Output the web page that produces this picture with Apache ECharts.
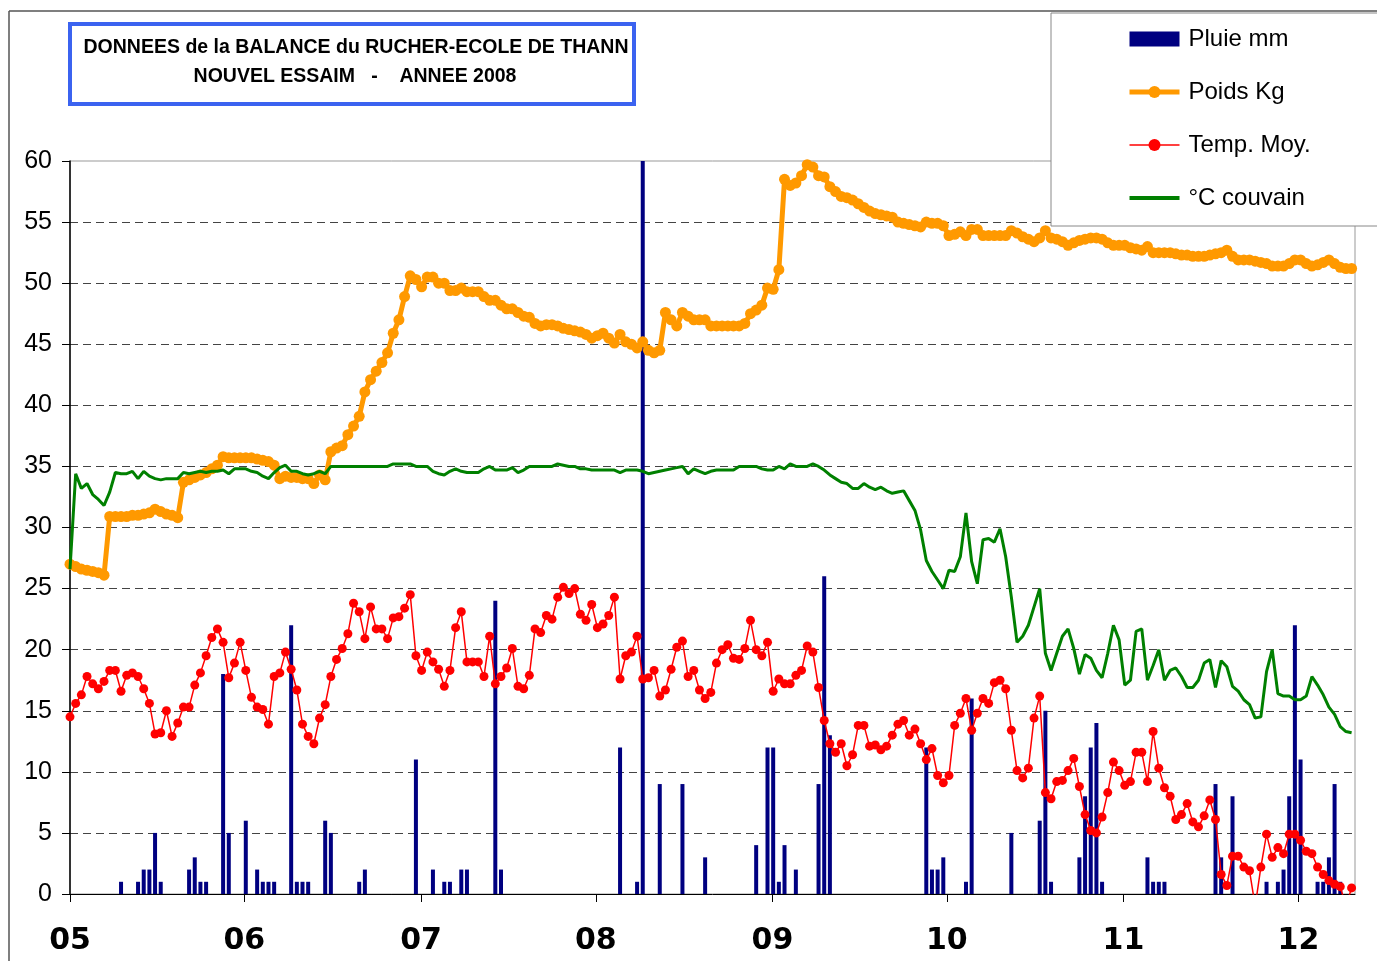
<!DOCTYPE html>
<html>
<head>
<meta charset="utf-8">
<script src="https://cdn.jsdelivr.net/npm/echarts@6/dist/echarts.min.js"></script>
<style>
  html, body { margin: 0; padding: 0; background: #fff; }
  #chart { width: 1377px; height: 961px; }
</style>
</head>
<body>
<div id="chart"></div>
<script>
// relevés journaliers, index 0 = 1er mai 2008
const poidsKg = [
  27.0, 26.8, 26.6, 26.5, 26.4, 26.3, 26.1, 30.9, 30.9, 30.9,
  30.9, 31.0, 31.0, 31.1, 31.2, 31.5, 31.3, 31.1, 31.0, 30.8,
  33.7, 33.9, 34.1, 34.3, 34.5, 34.8, 35.1, 35.8, 35.7, 35.7,
  35.7, 35.7, 35.7, 35.6, 35.5, 35.4, 35.1, 34.0, 34.2, 34.1,
  34.1, 34.0, 34.0, 33.6, 34.3, 33.9, 36.2, 36.5, 36.7, 37.6,
  38.3, 39.1, 41.1, 42.1, 42.8, 43.5, 44.3, 45.9, 47.0, 48.9,
  50.6, 50.3, 49.7, 50.5, 50.5, 50.0, 50.0, 49.4, 49.4, 49.6,
  49.3, 49.3, 49.3, 48.9, 48.6, 48.6, 48.2, 47.9, 47.9, 47.6,
  47.3, 47.2, 46.7, 46.5, 46.6, 46.6, 46.5, 46.3, 46.2, 46.1,
  46.0, 45.8, 45.5, 45.7, 45.9, 45.5, 45.1, 45.8, 45.2, 45.0,
  44.7, 45.2, 44.5, 44.3, 44.5, 47.6, 47.0, 46.5, 47.6, 47.3,
  47.0, 47.0, 47.0, 46.5, 46.5, 46.5, 46.5, 46.5, 46.5, 46.7,
  47.5, 47.8, 48.2, 49.6, 49.5, 51.1, 58.5, 58.0, 58.2, 58.8,
  59.7, 59.5, 58.8, 58.7, 57.9, 57.5, 57.1, 57.0, 56.8, 56.5,
  56.2, 55.9, 55.7, 55.6, 55.5, 55.4, 55.0, 54.9, 54.8, 54.7,
  54.6, 55.0, 54.9, 54.9, 54.7, 53.9, 54.0, 54.2, 53.9, 54.4,
  54.4, 53.9, 53.9, 53.9, 53.9, 53.9, 54.3, 54.1, 53.8, 53.6,
  53.4, 53.7, 54.3, 53.7, 53.6, 53.4, 53.1, 53.3, 53.5, 53.6,
  53.7, 53.7, 53.6, 53.3, 53.1, 53.1, 53.1, 52.9, 52.8, 52.7,
  53.0, 52.5, 52.5, 52.5, 52.5, 52.4, 52.3, 52.3, 52.2, 52.2,
  52.2, 52.3, 52.4, 52.5, 52.7, 52.2, 51.9, 51.9, 51.9, 51.8,
  51.7, 51.6, 51.4, 51.4, 51.4, 51.6, 51.9, 51.9, 51.6, 51.4,
  51.5, 51.7, 51.9, 51.6, 51.3, 51.2, 51.2
];

const tempMoy = [
  14.5, 15.6, 16.3, 17.8, 17.2, 16.8, 17.4, 18.3, 18.3, 16.6,
  17.9, 18.1, 17.8, 16.8, 15.6, 13.1, 13.2, 15.0, 12.9, 14.0,
  15.3, 15.3, 17.1, 18.1, 19.5, 21.0, 21.7, 20.6, 17.7, 18.9,
  20.6, 18.3, 16.1, 15.3, 15.1, 13.9, 17.8, 18.1, 19.8, 18.4,
  16.7, 13.9, 12.9, 12.3, 14.4, 15.5, 17.8, 19.2, 20.1, 21.3,
  23.8, 23.1, 20.9, 23.5, 21.7, 21.7, 20.9, 22.6, 22.7, 23.4,
  24.5, 19.5, 18.3, 19.8, 19.0, 18.4, 17.0, 18.3, 21.8, 23.1,
  19.0, 19.0, 19.0, 17.8, 21.1, 17.2, 17.8, 18.5, 20.1, 17.0,
  16.8, 17.9, 21.7, 21.4, 22.8, 22.5, 24.3, 25.1, 24.6, 25.0,
  22.9, 22.4, 23.7, 21.8, 22.1, 22.8, 24.3, 17.6, 19.5, 19.8,
  21.1, 17.6, 17.7, 18.3, 16.2, 16.7, 18.4, 20.2, 20.7, 17.8,
  18.3, 16.7, 16.0, 16.5, 18.9, 20.0, 20.4, 19.3, 19.2, 20.1,
  22.4, 20.0, 19.5, 20.6, 16.6, 17.6, 17.2, 17.2, 17.9, 18.3,
  20.3, 19.8, 16.9, 14.2, 12.3, 11.6, 12.3, 10.5, 11.4, 13.8,
  13.8, 12.1, 12.2, 11.8, 12.1, 13.0, 13.9, 14.2, 13.0, 13.5,
  12.3, 11.0, 11.9, 9.7, 9.1, 9.7, 13.8, 14.8, 16.0, 13.4,
  14.8, 16.0, 15.6, 17.3, 17.5, 16.8, 13.4, 10.1, 9.5, 10.3,
  14.4, 16.2, 8.3, 7.8, 9.2, 9.3, 10.1, 11.1, 8.8, 6.5,
  5.2, 5.0, 6.3, 8.3, 10.8, 10.1, 8.9, 9.2, 11.6, 11.6,
  9.2, 13.3, 10.3, 8.7, 8.0, 6.1, 6.5, 7.4, 5.9, 5.5,
  6.4, 7.7, 6.1, 1.6, 0.7, 3.1, 3.1, 2.2, 1.9, -1.0,
  2.2, 4.9, 3.0, 3.8, 3.3, 4.9, 4.9, 4.4, 3.5, 3.3,
  2.2, 1.6, 1.1, 0.8, 0.6, -1.0, 0.5
];

const couvain = [
  26.6, 34.4, 33.2, 33.6, 32.7, 32.3, 31.8, 32.9, 34.5, 34.4,
  34.4, 34.6, 34.0, 34.6, 34.2, 34.0, 33.9, 34.0, 34.0, 34.0,
  34.5, 34.4, 34.5, 34.6, 34.5, 34.6, 34.6, 34.7, 34.4, 34.8,
  34.8, 34.8, 34.6, 34.5, 34.2, 34.0, 34.5, 34.9, 35.1, 34.6,
  34.6, 34.4, 34.3, 34.4, 34.6, 34.4, 35.0, 35.0, 35.0, 35.0,
  35.0, 35.0, 35.0, 35.0, 35.0, 35.0, 35.0, 35.2, 35.2, 35.2,
  35.2, 35.0, 35.0, 35.0, 34.6, 34.4, 34.3, 34.6, 34.8, 34.6,
  34.5, 34.5, 34.5, 34.8, 35.0, 34.7, 34.7, 34.7, 34.9, 34.5,
  34.7, 35.0, 35.0, 35.0, 35.0, 35.0, 35.2, 35.1, 35.0, 35.0,
  34.8, 34.8, 34.7, 34.7, 34.7, 34.7, 34.7, 34.5, 34.7, 34.7,
  34.7, 34.6, 34.4, 34.5, 34.6, 34.7, 34.8, 34.9, 35.0, 34.4,
  34.8, 34.6, 34.4, 34.6, 34.7, 34.7, 34.7, 34.7, 35.0, 35.0,
  35.0, 35.0, 34.8, 34.7, 34.7, 35.0, 34.8, 35.2, 35.0, 35.0,
  35.0, 35.2, 35.0, 34.7, 34.3, 34.0, 33.7, 33.6, 33.2, 33.2,
  33.6, 33.3, 33.1, 33.3, 33.0, 32.8, 32.9, 33.0, 32.2, 31.4,
  29.8, 27.3, 26.4, 25.7, 25.0, 26.5, 26.4, 27.6, 31.2, 27.2,
  25.4, 29.0, 29.1, 28.8, 29.9, 27.6, 24.3, 20.6, 21.1, 22.0,
  23.5, 25.0, 19.7, 18.3, 19.7, 21.1, 21.7, 20.1, 18.0, 19.6,
  19.3, 18.3, 17.7, 19.7, 22.0, 20.8, 17.1, 17.5, 21.5, 21.7,
  17.5, 18.7, 20.0, 17.5, 18.3, 18.5, 17.8, 16.9, 16.9, 17.5,
  18.9, 19.2, 16.9, 19.1, 18.6, 17.0, 16.6, 15.9, 15.5, 14.4,
  14.5, 18.2, 20.0, 16.4, 16.2, 16.2, 15.9, 15.9, 16.2, 17.8,
  17.1, 16.3, 15.3, 14.7, 13.7, 13.3, 13.2
];

// jours de pluie (index) et hauteur en mm
const rainDay = [9, 12, 13, 14, 15, 16, 21, 22, 23, 24, 27, 28, 31, 33, 34, 35, 36, 39, 40, 41,
  42, 45, 46, 51, 52, 61, 64, 66, 67, 69, 70, 75, 76, 97, 100, 101, 104, 108, 112, 121,
  123, 124, 125, 126, 128, 132, 133, 134, 151, 152, 153, 154, 158, 159, 166, 171, 172, 173, 178, 179,
  180, 181, 182, 190, 191, 192, 193, 202, 203, 205, 211, 213, 214, 215, 216, 217, 220, 221, 222, 223, 224];
const rainMm = [1, 1, 2, 2, 5, 1, 2, 3, 1, 1, 18, 5, 6, 2, 1, 1, 1, 22, 1, 1,
  1, 6, 5, 1, 2, 11, 2, 1, 1, 2, 2, 24, 2, 12, 1, 60, 9, 9, 3, 4,
  12, 12, 1, 4, 2, 9, 26, 13, 12, 2, 2, 3, 1, 16, 5, 6, 15, 1, 3, 8,
  12, 14, 1, 3, 1, 1, 1, 9, 3, 8, 1, 1, 2, 8, 22, 11, 1, 1, 3, 9, 1];

// graduations des mois sur l'axe des jours
const monthTicks = [0, 30.74, 61.9, 92.72, 123.86, 154.62, 185.77, 216.63];
const monthLabels = ['05', '06', '07', '08', '09', '10', '11', '12'];

const chart = echarts.init(document.getElementById('chart'), null, { renderer: 'canvas' });

function toPairs(arr) {
  return arr.map((v, i) => [i, v]);
}

const option = {
  backgroundColor: '#fff',
  animation: false,
  grid: {
    left: 70,
    right: 22,
    top: 161,
    bottom: 67,
    show: true,
    borderColor: '#999',
    borderWidth: 1,
    backgroundColor: 'transparent'
  },
  legend: {
    orient: 'vertical',
    left: 1122,
    top: 22,
    itemWidth: 50,
    itemHeight: 15,
    itemGap: 29,
    z: 20,
    textStyle: { fontFamily: 'Liberation Sans', fontSize: 24, color: '#000', padding: [0, 0, 0, 4] },
    data: [
      { name: 'Pluie mm', icon: 'rect' },
      { name: 'Poids Kg', lineStyle: { width: 5 } },
      { name: 'Temp. Moy.', lineStyle: { width: 1.5 } },
      { name: '°C couvain', lineStyle: { width: 4 }, itemStyle: { opacity: 0 } }
    ]
  },
  xAxis: {
    type: 'value',
    min: 0,
    max: 226.6,
    axisLine: { show: true, lineStyle: { color: '#000', width: 1 } },
    axisTick: {
      show: true,
      length: 8,
      customValues: monthTicks,
      lineStyle: { color: '#000' }
    },
    axisLabel: {
      customValues: monthTicks,
      margin: 32,
      fontFamily: 'DejaVu Sans',
      fontWeight: 'bold',
      fontSize: 30,
      color: '#000',
      formatter: function (value) {
        let k = monthTicks.indexOf(value);
        return k >= 0 ? monthLabels[k] : '';
      }
    },
    splitLine: { show: false }
  },
  yAxis: {
    type: 'value',
    min: 0,
    max: 60,
    interval: 5,
    axisLine: { show: true, lineStyle: { color: '#000', width: 1.5 } },
    axisTick: { show: true, length: 8, lineStyle: { color: '#000' } },
    axisLabel: {
      margin: 18,
      fontFamily: 'Liberation Sans',
      fontSize: 25,
      color: '#000'
    },
    splitLine: {
      show: true,
      showMinLine: false,
      showMaxLine: false,
      lineStyle: { color: '#444', width: 1, type: [8, 5] }
    }
  },
  graphic: [
    // cadre extérieur
    { type: 'line', z: 1, shape: { x1: 9, y1: 11, x2: 1377, y2: 11 }, style: { stroke: '#555', lineWidth: 1.5 } },
    { type: 'line', z: 1, shape: { x1: 9, y1: 11, x2: 9, y2: 961 }, style: { stroke: '#555', lineWidth: 1.5 } },
    // cartouche titre
    { type: 'rect', z: 10, shape: { x: 70, y: 24, width: 564, height: 80 },
      style: { fill: '#fff', stroke: '#3b63f0', lineWidth: 4 } },
    { type: 'text', z: 11, x: 356, y: 48,
      style: { text: 'DONNEES de la BALANCE du RUCHER-ECOLE DE THANN', fill: '#000',
        font: 'bold 19.5px "Liberation Sans"', align: 'center', verticalAlign: 'middle' } },
    { type: 'text', z: 11, x: 355, y: 77,
      style: { text: 'NOUVEL ESSAIM   -    ANNEE 2008', fill: '#000',
        font: 'bold 19.5px "Liberation Sans"', align: 'center', verticalAlign: 'middle' } },
    // boîte de légende
    { type: 'rect', z: 15, shape: { x: 1051, y: 13, width: 340, height: 213 },
      style: { fill: '#fff', stroke: '#888', lineWidth: 1 } }
  ],
  series: [
    {
      name: 'Pluie mm',
      type: 'bar',
      barWidth: 4,
      z: 2,
      itemStyle: { color: '#000080' },
      data: rainDay.map((d, k) => [d, rainMm[k]])
    },
    {
      name: 'Poids Kg',
      type: 'line',
      z: 3,
      symbol: 'circle',
      symbolSize: 11,
      showAllSymbol: true,
      color: '#FF9900',
      lineStyle: { color: '#FF9900', width: 5 },
      itemStyle: { color: '#FF9900' },
      data: toPairs(poidsKg)
    },
    {
      name: 'Temp. Moy.',
      type: 'line',
      z: 4,
      symbol: 'circle',
      symbolSize: 9,
      showAllSymbol: true,
      color: '#FF0000',
      lineStyle: { color: '#FF0000', width: 1.5 },
      itemStyle: { color: '#FF0000' },
      data: toPairs(tempMoy)
    },
    {
      name: '°C couvain',
      type: 'line',
      z: 5,
      symbol: 'none',
      color: '#008000',
      lineStyle: { color: '#008000', width: 3 },
      data: toPairs(couvain)
    }
  ]
};

chart.setOption(option);
</script>
</body>
</html>
